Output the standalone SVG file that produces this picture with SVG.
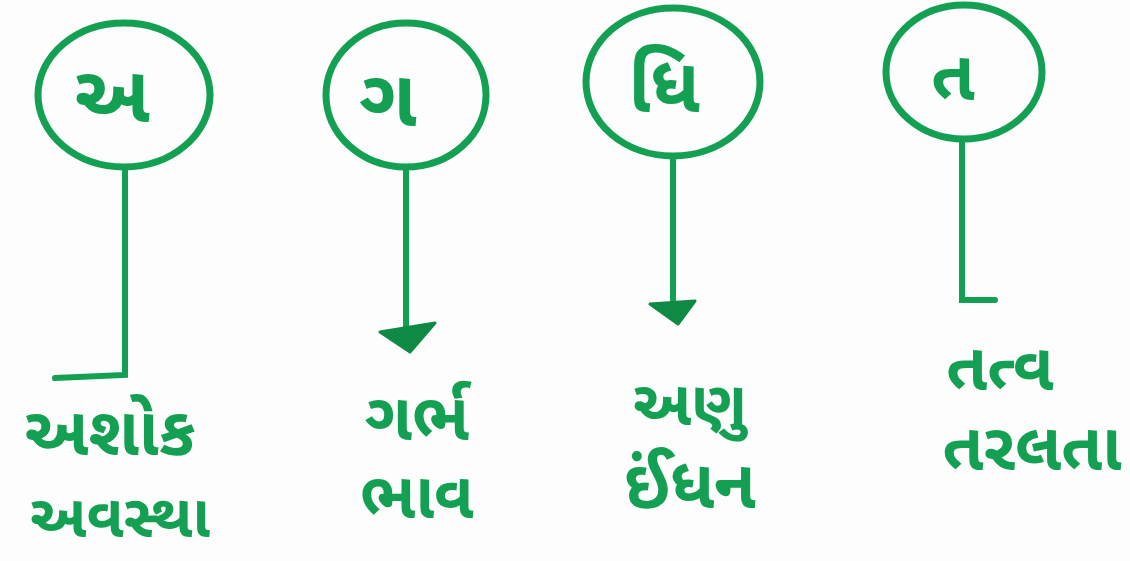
<svg xmlns="http://www.w3.org/2000/svg" width="1130" height="561" viewBox="0 0 1130 561">
<style>
.t{font-family:"Noto Sans Gujarati","Noto Serif Gujarati","Lohit Gujarati","Noto Sans",sans-serif;fill:#14a052;font-weight:bold}
.c{fill:none;stroke:#14a052;stroke-width:7}
.l{fill:none;stroke:#14a052;stroke-width:6;stroke-linecap:round}
.ah{fill:#0f8a45;stroke:#0f8a45;stroke-width:3;stroke-linejoin:round}
</style>
<rect width="1130" height="561" fill="#fdfdfd"/>
<g id="node-a"><ellipse class="c" cx="124" cy="95" rx="86" ry="72"/><text class="t" x="112" y="122" font-size="80" text-anchor="middle">અ</text></g>
<g id="node-ga"><ellipse class="c" cx="406" cy="95" rx="80" ry="72"/><text class="t" x="388" y="126" font-size="80" text-anchor="middle">ગ</text></g>
<g id="node-dhi"><ellipse class="c" cx="673" cy="82" rx="87" ry="74"/><text class="t" x="664" y="112" font-size="76" text-anchor="middle">ધિ</text></g>
<g id="node-ta"><ellipse class="c" cx="964" cy="72" rx="78" ry="67"/><text class="t" x="953" y="100" font-size="70" text-anchor="middle">ત</text></g>
<g id="connectors">
<path class="l" d="M125,167 L125,375 L55,378"/>
<path class="l" d="M406,167 L406,328"/>
<path class="ah" d="M380,332 L435,323 L410,352 Z"/>
<path class="l" d="M673,156 L673,306"/>
<path class="ah" d="M650,304 L695,301 L678,324 Z"/>
<path class="l" d="M962,139 L962,300 L995,300"/>
</g>
<g id="labels">
<text class="t" x="110" y="455" font-size="68" text-anchor="middle">અશોક</text>
<text class="t" x="120" y="537" font-size="60" text-anchor="middle">અવસ્થા</text>
<text class="t" x="417" y="440" font-size="66" text-anchor="middle">ગર્ભ</text>
<text class="t" x="417" y="518" font-size="64" text-anchor="middle">ભાવ</text>
<text class="t" x="690" y="425" font-size="62" text-anchor="middle">અણુ</text>
<text class="t" x="690" y="508" font-size="68" text-anchor="middle">ઈંધન</text>
<text class="t" x="1000" y="390" font-size="66" text-anchor="middle">તત્વ</text>
<text class="t" x="1032" y="470" font-size="66" text-anchor="middle">તરલતા</text>
</g>
</svg>
